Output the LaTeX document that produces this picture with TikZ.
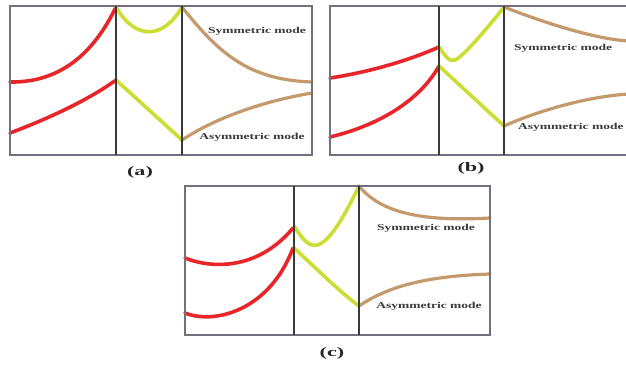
\documentclass[tikz,border=0pt]{standalone}
\usepackage{fontspec}
\setmainfont{Liberation Serif}
\definecolor{cred}{HTML}{E8262A}
\definecolor{clime}{HTML}{CCDD33}
\definecolor{ctan}{HTML}{C49A6C}
\definecolor{cframe}{HTML}{70707E}
\definecolor{cdiv}{HTML}{3A3A3A}
\definecolor{ctext}{HTML}{3A3A3A}
\begin{document}
\begin{tikzpicture}[x=1pt,y=-1pt,
  frame/.style={draw=cframe,line width=1.4pt},
  divider/.style={draw=cdiv,line width=1.3pt},
  redc/.style={draw=cred,line width=3.6pt,line cap=round},
  limec/.style={draw=clime,line width=3.6pt,line cap=round},
  tanc/.style={draw=ctan,line width=3.2pt,line cap=round},
  modelab/.style={text=ctext,font=\bfseries\fontsize{9}{10}\selectfont,inner sep=0pt},
  panlab/.style={text=black!85,font=\bfseries\fontsize{13}{14}\selectfont,inner sep=0pt}]
\useasboundingbox (0,0) rectangle (626,367);
\fill[white] (0,0) rectangle (626,367);
% ---------- panel (a)
\draw[redc] (10,82) .. controls (70,83) and (100,40) .. (116,7);
\draw[redc] (10,133) .. controls (50,118) and (90,99) .. (116,80);
\draw[limec] (116,7) .. controls (135,40) and (163,40) .. (182,7);
\draw[limec] (116,80) -- (182,140);
\draw[tanc] (182,7) .. controls (220,55) and (250,80) .. (312,82);
\draw[tanc] (182,140) .. controls (220,115) and (270,100) .. (312,93);
\draw[frame] (10,6) rectangle (312,155);
\draw[divider] (116,6) -- (116,155);
\draw[divider] (182,6) -- (182,155);
\node[modelab] (as) at (257,31) {\scalebox{1.5}[1]{Symmetric mode}};
\node[modelab] (aa) at (252,137) {\scalebox{1.5}[1]{Asymmetric mode}};
\node[panlab] (la) at (140,172) {\scalebox{1.7}[1]{(a)}};
% ---------- panel (b)
\begin{scope}
\clip (0,0) rectangle (626,367);
\draw[redc] (330,78) .. controls (370,72) and (410,60) .. (439,47);
\draw[redc] (330,137) .. controls (380,125) and (420,100) .. (439,66);
\draw[limec] (439,47) .. controls (446,57) and (449,62) .. (455,60) .. controls (463,57) and (490,25) .. (504,7);
\draw[limec] (439,66) -- (504,126);
\draw[tanc] (504,7) .. controls (550,25) and (600,40) .. (630,41);
\draw[tanc] (504,126) .. controls (540,110) and (590,96) .. (630,94);
\draw[frame] (640,6) -- (330,6) -- (330,155) -- (640,155);
\draw[divider] (439,6) -- (439,155);
\draw[divider] (504,6) -- (504,155);
\node[modelab,anchor=west] (bs) at (514,48) {\scalebox{1.5}[1]{Symmetric mode}};
\node[modelab,anchor=west] (ba) at (518,127) {\scalebox{1.5}[1]{Asymmetric mode}};
\end{scope}
\node[panlab] (lb) at (471,168) {\scalebox{1.7}[1]{(b)}};
% ---------- panel (c)
\draw[redc] (185,258) .. controls (215,270) and (260,268) .. (293,228);
\draw[redc] (185,313) .. controls (215,325) and (270,310) .. (293,248);
\draw[limec] (294,226) .. controls (302,238) and (308,247) .. (317,245) .. controls (330,242) and (345,215) .. (359,186);
\draw[limec] (294,248) .. controls (320,272) and (340,292) .. (359,306);
\draw[tanc] (359,186) .. controls (380,212) and (420,222) .. (490,218);
\draw[tanc] (359,306) .. controls (390,285) and (430,276) .. (490,274);
\draw[frame] (185,186) rectangle (490,335);
\draw[divider] (294,186) -- (294,335);
\draw[divider] (359,186) -- (359,335);
\node[modelab] (cs) at (426,228) {\scalebox{1.5}[1]{Symmetric mode}};
\node[modelab] (ca) at (429,306) {\scalebox{1.5}[1]{Asymmetric mode}};
\node[panlab] (lc) at (332,353) {\scalebox{1.7}[1]{(c)}};
\end{tikzpicture}
\end{document}
